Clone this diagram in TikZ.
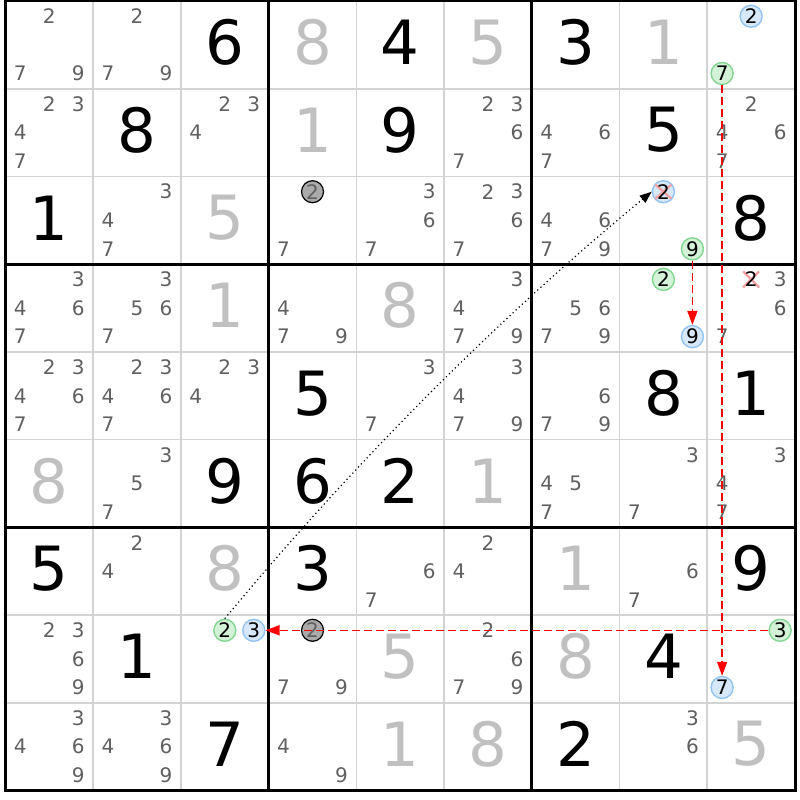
\documentclass[tikz,border=0pt]{standalone}
\usepackage{fontspec}
\setmainfont{DejaVu Sans}
\usetikzlibrary{arrows.meta,calc}
\definecolor{candgray}{RGB}{96,96,96}
\definecolor{solgray}{RGB}{192,192,192}
\definecolor{gridgray}{RGB}{211,211,211}
\definecolor{bluefill}{RGB}{214,232,250}
\definecolor{bluedraw}{RGB}{145,196,242}
\definecolor{greenfill}{RGB}{212,242,216}
\definecolor{greendraw}{RGB}{130,214,145}
\definecolor{grayfill}{RGB}{170,170,170}
\definecolor{xpink}{RGB}{244,160,160}
\newcommand\sdig[4][given]{\node[#1] (d#2#3) at ({5.5+(#3-0.5)*87.72},{1+(#2-0.5)*87.72-2.5}) {#4};}
\newcommand\cpt[3]{\coordinate (p#1#2#3) at ({5.5+(#2-0.5)*87.72+(mod(#3-1,3)-1)*29},{1+(#1-0.5)*87.72+(int((#3-1)/3)-1)*28.6});}
\newcommand\cand[4][cand]{\cpt{#2}{#3}{#4}\node[#1] (k#2#3#4) at (p#2#3#4) {#4};}
\newcommand\cands[3]{\foreach \kk in {#3}{\cand{#1}{#2}{\kk}}}
\begin{document}
\begin{tikzpicture}[x=1pt,y=-1pt,
  given/.style={font=\fontsize{61}{61}\selectfont,text=black,inner sep=0pt},
  solved/.style={given,text=solgray},
  cand/.style={font=\fontsize{20}{20}\selectfont,text=candgray,inner sep=1pt},
  circ/.style={circle,minimum size=22pt,inner sep=0pt,line width=1.4pt,font=\fontsize{20}{20}\selectfont,text=black},
  bluec/.style={circ,draw=bluedraw,fill=bluefill},
  greenc/.style={circ,draw=greendraw,fill=greenfill},
  grayc/.style={circ,draw=black,fill=grayfill,text=candgray,line width=1.2pt},
  thingrid/.style={draw=gridgray,line width=1.6pt},
  thickgrid/.style={draw=black,line width=3pt},
  xmark/.style={draw=xpink,line width=2.2pt},
  redarrow/.style={draw=red,line width=1.4pt,dash pattern=on 8pt off 4pt,-{Triangle[length=14pt,width=10pt]}},
  dotarrow/.style={draw=black,line width=1.2pt,dash pattern=on 1.2pt off 3pt,-{Triangle[length=12pt,width=9pt]}}
]
\useasboundingbox (0,0) rectangle (800,800);
\fill[white] (0,0) rectangle (800,800);
% grid
\foreach \i in {1,2,4,5,7,8}{
  \draw[thingrid] ({5.5+\i*87.72},1) -- ({5.5+\i*87.72},790.5);
  \draw[thingrid] (5.5,{1+\i*87.72}) -- (795,{1+\i*87.72});
}
\foreach \i in {3,6}{
  \draw[thickgrid] ({5.5+\i*87.72},1) -- ({5.5+\i*87.72},790.5);
  \draw[thickgrid] (5.5,{1+\i*87.72}) -- (795,{1+\i*87.72});
}
\draw[thickgrid] (5.5,1) rectangle (795,790.5);
% givens
\sdig{1}{3}{6}\sdig{1}{5}{4}\sdig{1}{7}{3}
\sdig{2}{2}{8}\sdig{2}{5}{9}\sdig{2}{8}{5}
\sdig{3}{1}{1}\sdig{3}{9}{8}
\sdig{5}{4}{5}\sdig{5}{8}{8}\sdig{5}{9}{1}
\sdig{6}{3}{9}\sdig{6}{4}{6}\sdig{6}{5}{2}
\sdig{7}{1}{5}\sdig{7}{4}{3}\sdig{7}{9}{9}
\sdig{8}{2}{1}\sdig{8}{8}{4}
\sdig{9}{3}{7}\sdig{9}{7}{2}
% solved
\sdig[solved]{1}{4}{8}\sdig[solved]{1}{6}{5}\sdig[solved]{1}{8}{1}
\sdig[solved]{2}{4}{1}
\sdig[solved]{3}{3}{5}
\sdig[solved]{4}{3}{1}\sdig[solved]{4}{5}{8}
\sdig[solved]{6}{1}{8}\sdig[solved]{6}{6}{1}
\sdig[solved]{7}{3}{8}\sdig[solved]{7}{7}{1}
\sdig[solved]{8}{5}{5}\sdig[solved]{8}{7}{8}
\sdig[solved]{9}{5}{1}\sdig[solved]{9}{6}{8}\sdig[solved]{9}{9}{5}
% candidates
\cands{1}{1}{2,7,9}
\cands{1}{2}{2,7,9}
\cand[bluec]{1}{9}{2}
\cand[greenc]{1}{9}{7}
\cands{2}{1}{2,3,4,7}
\cands{2}{3}{2,3,4}
\cands{2}{6}{2,3,6,7}
\cands{2}{7}{4,6,7}
\cands{2}{9}{2,4,6,7}
\cands{3}{2}{3,4,7}
\cand[grayc]{3}{4}{2}
\cands{3}{4}{7}
\cands{3}{5}{3,6,7}
\cands{3}{6}{2,3,6,7}
\cands{3}{7}{4,6,7,9}
\cpt{3}{8}{2}
\node[bluec] (k382) at (p382) {};
\draw[xmark] ($(p382)+(-8,-7)$) -- ($(p382)+(8,7)$) ($(p382)+(8,-7)$) -- ($(p382)+(-8,7)$);
\node[cand,text=black] (t382) at (p382) {2};
\cand[greenc]{3}{8}{9}
\cands{4}{1}{3,4,6,7}
\cands{4}{2}{3,5,6,7}
\cands{4}{4}{4,7,9}
\cands{4}{6}{3,4,7,9}
\cands{4}{7}{5,6,7,9}
\cand[greenc]{4}{8}{2}
\cand[bluec]{4}{8}{9}
\cpt{4}{9}{2}
\draw[xmark] ($(p492)+(-8,-8)$) -- ($(p492)+(8,8)$) ($(p492)+(8,-8)$) -- ($(p492)+(-8,8)$);
\node[cand,text=black] (k492) at (p492) {2};
\cands{4}{9}{3,6,7}
\cands{5}{1}{2,3,4,6,7}
\cands{5}{2}{2,3,4,6,7}
\cands{5}{3}{2,3,4}
\cands{5}{5}{3,7}
\cands{5}{6}{3,4,7,9}
\cands{5}{7}{6,7,9}
\cands{6}{2}{3,5,7}
\cands{6}{7}{4,5,7}
\cands{6}{8}{3,7}
\cands{6}{9}{3,4,7}
\cands{7}{2}{2,4}
\cands{7}{5}{6,7}
\cands{7}{6}{2,4}
\cands{7}{8}{6,7}
\cands{8}{1}{2,3,6,9}
\cand[greenc]{8}{3}{2}
\cand[bluec]{8}{3}{3}
\cand[grayc]{8}{4}{2}
\cands{8}{4}{7,9}
\cands{8}{6}{2,6,7,9}
\cand[greenc]{8}{9}{3}
\cand[bluec]{8}{9}{7}
\cands{9}{1}{3,4,6,9}
\cands{9}{2}{3,4,6,9}
\cands{9}{4}{4,9}
\cands{9}{8}{3,6}
% links
\draw[dotarrow] (k832.north) .. controls (354,463) and (496,320) .. (k382.west);
\draw[redarrow] (k389) -- (k489);
\draw[redarrow] (k197) -- (k897);
\draw[redarrow] (k893) -- (k833);
\end{tikzpicture}
\end{document}
